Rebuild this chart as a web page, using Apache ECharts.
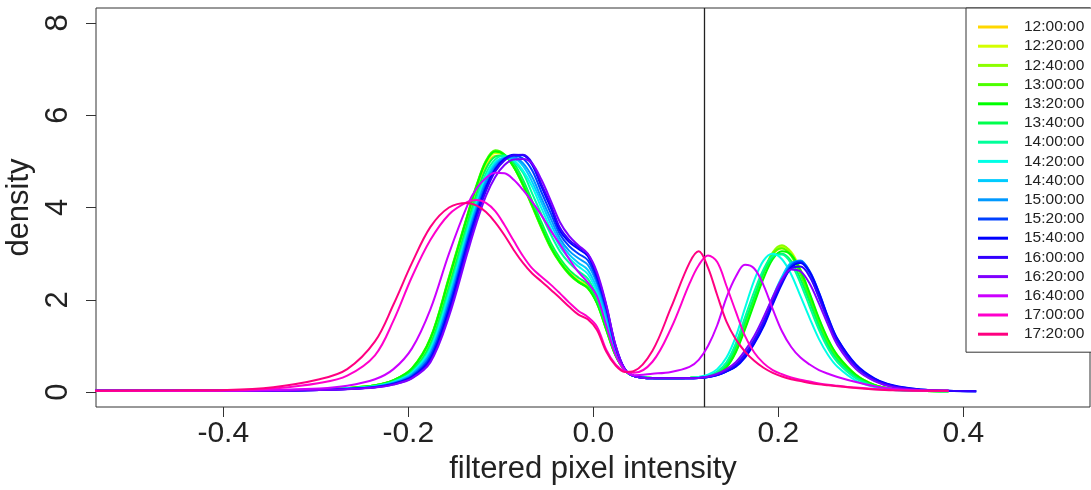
<!DOCTYPE html>
<html><head><meta charset="utf-8">
<script src="https://cdn.jsdelivr.net/npm/echarts@6/dist/echarts.min.js"></script>
<style>html,body{margin:0;padding:0;background:#fff}#c{width:1091px;height:490px}</style>
</head><body><div id="c"></div>
<script>
// sample positions (filtered pixel intensity)
const xs = [
 -0.546,-0.456,-0.396,-0.346,-0.296,-0.266,-0.236,-0.216,-0.196,-0.176,-0.156,
 -0.136,-0.126,-0.116,-0.106,-0.096,-0.086,-0.076,-0.066,-0.056,-0.046,-0.036,-0.026,-0.016,-0.006,0.004,0.014,0.024,0.034,0.044,
 0.064,0.084,
 0.104,0.114,0.124,0.134,0.144,0.154,0.164,0.174,0.184,0.194,0.204,0.214,0.224,0.234,0.244,0.254,0.264,
 0.284,0.304,0.324,0.354,0.384,0.414];

const times = ['12:00:00','12:20:00','12:40:00','13:00:00','13:20:00','13:40:00','14:00:00','14:20:00','14:40:00',
 '15:00:00','15:20:00','15:40:00','16:00:00','16:20:00','16:40:00','17:00:00','17:20:00'];

const colors = ['#FFD700','#D4FF00','#8CFF00','#4DFF00','#00FF00','#00FF4D','#00FF99','#00FFE6','#00CCFF',
 '#0099FF','#0040FF','#0000FF','#3300FF','#8000FF','#CC00FF','#FF00CC','#FF0080'];

const d1200 = [0.03,0.03,0.03,0.04,0.06,0.09,0.14,0.24,0.48,1.09,2.36,
 3.72,4.36,4.88,5.12,5.12,4.9,4.55,4.1,3.62,3.2,2.86,2.6,2.42,2.3,1.98,1.4,0.82,0.48,0.35,
 0.31,0.3,
 0.31,0.32,0.34,0.4,0.55,0.9,1.42,2.0,2.55,2.98,3.12,2.98,2.6,2.08,1.55,1.1,0.78,
 0.37,0.16,0.07,0.03,0.02,null];
const d1220 = [0.03,0.03,0.03,0.04,0.06,0.09,0.15,0.25,0.5,1.14,2.43,
 3.8,4.44,4.96,5.18,5.13,4.88,4.5,4.05,3.58,3.15,2.82,2.57,2.4,2.27,1.95,1.38,0.81,0.48,0.35,
 0.31,0.3,
 0.31,0.32,0.34,0.4,0.54,0.88,1.4,1.98,2.55,3.0,3.15,3.04,2.66,2.12,1.58,1.12,0.8,
 0.38,0.16,0.07,0.03,0.02,null];
const d1240 = [0.03,0.03,0.03,0.04,0.06,0.09,0.15,0.26,0.51,1.17,2.48,
 3.83,4.48,5.0,5.22,5.14,4.87,4.48,4.03,3.56,3.13,2.81,2.56,2.39,2.26,1.93,1.36,0.8,0.48,0.35,
 0.31,0.3,
 0.31,0.32,0.35,0.42,0.57,0.93,1.47,2.04,2.6,3.03,3.18,3.01,2.6,2.06,1.52,1.07,0.76,
 0.36,0.15,0.07,0.03,0.02,null];
const d1300 = [0.03,0.03,0.03,0.04,0.06,0.09,0.15,0.26,0.52,1.18,2.5,
 3.85,4.5,5.02,5.24,5.15,4.88,4.48,4.02,3.55,3.12,2.8,2.55,2.38,2.25,1.92,1.35,0.8,0.48,0.35,
 0.31,0.3,
 0.31,0.32,0.35,0.42,0.58,0.95,1.5,2.05,2.6,3.0,3.12,2.95,2.55,2.02,1.48,1.04,0.74,
 0.35,0.15,0.07,0.03,0.02,null];
const d1320 = [0.03,0.03,0.03,0.04,0.06,0.09,0.15,0.26,0.51,1.16,2.46,
 3.82,4.47,4.99,5.21,5.14,4.88,4.5,4.05,3.58,3.15,2.82,2.57,2.39,2.26,1.93,1.36,0.8,0.48,0.35,
 0.31,0.3,
 0.31,0.32,0.34,0.4,0.54,0.86,1.36,1.92,2.46,2.88,3.05,2.97,2.64,2.14,1.6,1.14,0.8,
 0.38,0.16,0.07,0.03,0.02,null];
const d1340 = [0.03,0.03,0.03,0.04,0.06,0.08,0.14,0.24,0.46,1.04,2.28,
 3.66,4.3,4.84,5.1,5.13,4.96,4.6,4.14,3.68,3.24,2.9,2.65,2.48,2.34,1.99,1.42,0.83,0.48,0.35,
 0.31,0.3,
 0.31,0.32,0.35,0.43,0.6,0.98,1.52,2.06,2.58,2.92,3.0,2.84,2.45,1.95,1.43,1.0,0.7,
 0.33,0.14,0.06,0.03,0.02,null];
const d1400 = [0.03,0.03,0.03,0.035,0.055,0.08,0.13,0.22,0.43,0.97,2.18,
 3.56,4.2,4.74,5.04,5.12,5.0,4.75,4.3,3.85,3.42,3.05,2.8,2.62,2.46,2.08,1.5,0.87,0.49,0.35,
 0.31,0.3,
 0.31,0.32,0.36,0.45,0.65,1.05,1.62,2.18,2.66,2.95,2.98,2.78,2.36,1.85,1.35,0.94,0.65,
 0.3,0.13,0.06,0.03,0.02,null];
const d1420 = [0.03,0.03,0.03,0.035,0.055,0.08,0.13,0.22,0.42,0.93,2.1,
 3.48,4.12,4.66,4.98,5.08,5.02,4.8,4.45,3.98,3.54,3.15,2.9,2.72,2.56,2.16,1.56,0.9,0.49,0.35,
 0.31,0.3,
 0.31,0.33,0.38,0.5,0.75,1.2,1.82,2.42,2.85,3.0,2.88,2.55,2.08,1.6,1.15,0.8,0.55,
 0.25,0.11,0.05,0.03,0.02,null];
const d1440 = [0.03,0.03,0.03,0.035,0.055,0.08,0.12,0.21,0.4,0.88,2.03,
 3.42,4.05,4.6,4.94,5.07,5.06,4.9,4.55,4.1,3.65,3.25,2.98,2.8,2.65,2.25,1.65,0.94,0.5,0.35,
 0.3,0.3,
 0.3,0.31,0.33,0.38,0.47,0.6,0.84,1.16,1.58,2.06,2.5,2.8,2.82,2.55,2.05,1.52,1.08,
 0.52,0.25,0.12,0.05,0.03,null];
const d1500 = [0.03,0.03,0.03,0.03,0.05,0.075,0.12,0.2,0.38,0.84,1.96,
 3.36,4.0,4.56,4.9,5.07,5.09,4.96,4.66,4.2,3.76,3.33,3.06,2.9,2.76,2.35,1.72,0.96,0.5,0.35,
 0.3,0.3,
 0.3,0.31,0.33,0.37,0.45,0.57,0.79,1.1,1.5,1.98,2.44,2.78,2.85,2.6,2.12,1.58,1.12,
 0.56,0.27,0.13,0.05,0.03,0.02];
const d1520 = [0.03,0.03,0.03,0.03,0.05,0.07,0.115,0.19,0.35,0.78,1.87,
 3.28,3.92,4.48,4.85,5.06,5.12,5.06,4.8,4.33,3.88,3.42,3.16,3.0,2.86,2.42,1.8,0.98,0.5,0.35,
 0.3,0.3,
 0.3,0.31,0.33,0.37,0.45,0.56,0.77,1.07,1.45,1.94,2.4,2.74,2.83,2.62,2.16,1.62,1.15,
 0.58,0.29,0.14,0.06,0.03,0.02];
const d1540 = [0.03,0.03,0.03,0.03,0.05,0.07,0.11,0.18,0.33,0.72,1.78,
 3.2,3.85,4.42,4.82,5.05,5.14,5.13,4.92,4.45,4.0,3.5,3.25,3.1,2.95,2.5,1.85,1.0,0.5,0.35,
 0.3,0.3,
 0.3,0.31,0.33,0.37,0.45,0.55,0.75,1.05,1.42,1.9,2.35,2.7,2.8,2.6,2.15,1.6,1.15,
 0.6,0.3,0.15,0.06,0.03,0.02];
const d1600 = [0.03,0.03,0.03,0.03,0.05,0.07,0.105,0.17,0.31,0.68,1.7,
 3.12,3.78,4.36,4.78,5.02,5.13,5.14,4.96,4.5,4.06,3.56,3.3,3.14,2.99,2.55,1.88,1.02,0.5,0.35,
 0.3,0.3,
 0.3,0.31,0.33,0.38,0.47,0.6,0.82,1.13,1.52,1.98,2.4,2.68,2.72,2.5,2.05,1.55,1.1,
 0.56,0.27,0.13,0.05,0.03,0.02];
const d1620 = [0.03,0.03,0.03,0.03,0.05,0.065,0.1,0.165,0.3,0.65,1.64,
 3.02,3.68,4.25,4.66,4.92,5.04,5.05,4.95,4.6,4.15,3.68,3.38,3.18,3.0,2.6,1.9,1.02,0.5,0.35,
 0.3,0.3,
 0.3,0.31,0.34,0.4,0.5,0.65,0.9,1.22,1.62,2.06,2.45,2.66,2.62,2.35,1.92,1.45,1.02,
 0.5,0.24,0.11,0.05,0.03,null];
const d1640 = [0.03,0.03,0.03,0.05,0.08,0.14,0.28,0.5,0.95,1.8,3.0,
 4.05,4.42,4.64,4.75,4.74,4.6,4.38,4.12,3.83,3.5,3.2,2.88,2.6,2.38,2.08,1.45,0.82,0.48,0.37,
 0.4,0.44,
 0.55,0.7,1.0,1.45,2.05,2.5,2.76,2.68,2.32,1.8,1.32,0.98,0.75,0.6,0.48,0.4,0.33,
 0.22,0.13,0.07,0.04,0.03,null];
const d1700 = [0.03,0.03,0.04,0.08,0.2,0.36,0.8,1.55,2.5,3.3,3.85,
 4.12,4.16,4.1,3.92,3.62,3.28,2.95,2.68,2.5,2.33,2.14,1.94,1.76,1.63,1.42,0.92,0.6,0.45,0.42,
 0.66,1.38,
 2.35,2.75,2.96,2.82,2.3,1.75,1.22,0.86,0.63,0.48,0.39,0.32,0.27,0.23,0.19,0.16,0.14,
 0.1,0.07,0.05,0.03,0.03,null];
const d1720 = [0.03,0.04,0.05,0.11,0.28,0.5,1.1,1.9,2.8,3.58,4.0,
 4.1,4.04,3.9,3.68,3.4,3.08,2.8,2.57,2.4,2.22,2.04,1.85,1.68,1.58,1.35,0.88,0.58,0.44,0.46,
 0.9,1.83,
 2.8,3.05,2.7,2.1,1.53,1.15,0.88,0.68,0.53,0.42,0.34,0.28,0.24,0.2,0.17,0.15,0.13,
 0.09,0.06,0.04,0.03,0.03,null];

const threshold = 0.12;
const xTicks = [-0.4, -0.2, 0, 0.2, 0.4];
const yTicks = [0, 2, 4, 6, 8];

const allDensities = [d1200,d1220,d1240,d1300,d1320,d1340,d1400,d1420,d1440,d1500,d1520,d1540,d1600,d1620,d1640,d1700,d1720];

const FONT = "'Liberation Sans', Arial, Helvetica, sans-serif";

const series = allDensities.map((arr, i) => ({
  name: times[i],
  type: 'line',
  data: xs.map((x, j) => [x, arr[j]]),
  showSymbol: false,
  symbol: 'none',
  smooth: 0.35,
  connectNulls: false,
  clip: true,
  color: colors[i],
  lineStyle: { width: 2, color: colors[i] },
  z: 2 + i
}));
series[series.length - 1].markLine = {
  silent: true, symbol: 'none', animation: false,
  label: { show: false },
  lineStyle: { color: '#222', width: 1.3, type: 'solid' },
  data: [{ xAxis: threshold }]
};

const chart = echarts.init(document.getElementById('c'), null, { renderer: 'canvas' });
chart.setOption({
  animation: false,
  backgroundColor: '#ffffff',
  textStyle: { fontFamily: FONT },
  grid: { left: 96, right: 1, top: 8, bottom: 83, show: true, borderColor: '#333', borderWidth: 1,
    backgroundColor: 'transparent', containLabel: false, outerBoundsMode: 'none' },
  xAxis: {
    type: 'value', min: -0.5376, max: 0.537,
    name: 'filtered pixel intensity', nameLocation: 'middle', nameGap: 46,
    nameTextStyle: { fontSize: 31, color: '#222', fontFamily: FONT },
    axisLine: { show: false, onZero: false },
    splitLine: { show: false },
    axisTick: { show: true, length: 10, customValues: xTicks, lineStyle: { color: '#333' } },
    axisLabel: { show: true, customValues: xTicks, margin: 12, fontSize: 30, color: '#222', fontFamily: FONT,
      formatter: v => v.toFixed(1) }
  },
  yAxis: {
    type: 'value', min: -0.32, max: 8.32,
    name: 'density', nameLocation: 'middle', nameGap: 58, nameRotate: 90,
    nameTextStyle: { fontSize: 31, color: '#222', fontFamily: FONT },
    axisLine: { show: false, onZero: false },
    splitLine: { show: false },
    axisTick: { show: true, length: 10, customValues: yTicks, lineStyle: { color: '#333' } },
    axisLabel: { show: true, customValues: yTicks, margin: 22, rotate: 90, fontSize: 31, color: '#222', fontFamily: FONT,
      formatter: v => String(v) }
  },
  legend: {
    orient: 'vertical', left: 966, top: 8,
    padding: [11, 30, 10, 12], itemGap: 3.2, itemWidth: 30, itemHeight: 3,
    icon: 'rect', backgroundColor: '#fff', borderColor: '#333', borderWidth: 1, borderRadius: 0,
    textStyle: { fontSize: 15.5, lineHeight: 16, color: '#222', padding: [0, 0, 0, 11], fontFamily: FONT },
    data: times, selectedMode: false, z: 20
  },
  series: series
});
</script></body></html>
